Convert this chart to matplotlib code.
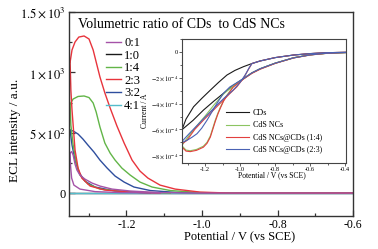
import matplotlib
matplotlib.use("Agg")
import matplotlib.pyplot as plt
from matplotlib.lines import Line2D
from matplotlib.ticker import MultipleLocator

plt.rcParams['font.family'] = ['Liberation Serif', 'DejaVu Serif']
plt.rcParams['mathtext.fontset'] = 'stix'
plt.rcParams['axes.unicode_minus'] = False

# ---- main panel: ECL intensity (a.u.) vs potential (V vs SCE) ----
# each ratio has a rising sweep (hump) and a return sweep (steep drop)
red_fwd_x = [-1.349, -1.344, -1.336, -1.326, -1.312, -1.299, -1.288, -1.280, -1.270, -1.257, -1.243,
             -1.225, -1.206, -1.185, -1.164, -1.143, -1.111, -1.071, -1.005, -0.925, -0.600]
red_fwd_y = [1085, 1185, 1251, 1292, 1301, 1276, 1185, 1085, 961, 829, 704,
             555, 414, 273, 182, 124, 66, 33, 8, 0, 0]
red_rev_x = [-1.349, -1.347, -1.344, -1.341, -1.336, -1.328, -1.318, -1.296, -1.257, -1.190, -1.111]
red_rev_y = [1085, 853, 688, 563, 356, 207, 124, 58, 25, 8, 0]

green_fwd_x = [-1.349, -1.341, -1.328, -1.312, -1.299, -1.288, -1.280, -1.270, -1.257, -1.243,
               -1.230, -1.212, -1.190, -1.164, -1.132, -1.084, -1.005, -0.899, -0.600]
green_fwd_y = [737, 779, 800, 804, 791, 746, 671, 547, 414, 331,
               273, 207, 149, 91, 50, 21, 4, 0, 0]
green_rev_x = [-1.349, -1.347, -1.341, -1.333, -1.323, -1.302, -1.270, -1.190, -1.084]
green_rev_y = [737, 563, 398, 257, 149, 75, 33, 8, 0]

blue_fwd_x = [-1.349, -1.341, -1.328, -1.315, -1.302, -1.286, -1.270, -1.251, -1.230, -1.206,
              -1.180, -1.137, -1.071, -0.952, -0.600]
blue_fwd_y = [522, 514, 489, 447, 398, 340, 273, 207, 141, 91, 50, 21, 6, 0, 0]
blue_rev_x = [-1.349, -1.344, -1.336, -1.326, -1.310, -1.283, -1.230, -1.137]
blue_rev_y = [522, 398, 273, 174, 99, 50, 17, 0]

purple_fwd_x = [-1.349, -1.345, -1.341, -1.336, -1.331, -1.323, -1.310, -1.291, -1.270, -1.238,
                -1.190, -1.111, -1.005, -0.600]
purple_fwd_y = [331, 344, 315, 240, 191, 149, 116, 83, 58, 33, 17, 4, 0, 0]
purple_rev_x = [-1.349, -1.348, -1.345, -1.339, -1.323, -1.283, -1.217, -1.111]
purple_rev_y = [331, 232, 124, 66, 33, 12, 4, 0]

flat_x = [-1.352, -0.600]
flat_y = [0, 0]

ratio_labels = ['0:1', '1:0', '1:4', '2:3', '3:2', '4:1']
ratio_colors = ['#a552a8', '#1a1a1a', '#62b548', '#e8343c', '#2e4e9e', '#55bccb']

# ---- inset: CV current (x1e-4 A) vs potential ----
cds_a_x = [-1.333, -1.310, -1.267, -1.220, -1.171, -1.124, -1.076, -1.030, -0.981, -0.933,
           -0.886, -0.800, -0.695, -0.600, -0.505, -0.398]
cds_a_y = [-6.02, -5.20, -4.25, -3.60, -2.96, -2.36, -1.79, -1.43, -1.14, -0.90,
           -0.70, -0.44, -0.24, -0.13, -0.06, -0.03]
cds_b_x = [-1.333, -1.270, -1.210, -1.150, -1.095, -1.040, -0.980, -0.933, -0.886, -0.800,
           -0.695, -0.600, -0.505, -0.398]
cds_b_y = [-6.02, -5.30, -4.50, -3.80, -3.20, -2.60, -2.05, -1.62, -1.30, -0.87,
           -0.45, -0.22, -0.10, -0.05]

cdsnc_f_x = [-1.331, -1.310, -1.286, -1.250, -1.211, -1.190, -1.171, -1.157, -1.143, -1.128,
             -1.114, -1.095, -1.076, -1.040, -0.980, -0.933, -0.886, -0.800, -0.695, -0.600,
             -0.505, -0.398]
cdsnc_f_y = [-7.30, -7.60, -7.65, -7.55, -7.30, -7.00, -6.50, -5.90, -5.30, -4.75,
             -4.30, -3.75, -3.35, -2.68, -2.07, -1.64, -1.32, -0.88, -0.46, -0.23,
             -0.11, -0.05]
cdsnc_r_x = [-1.331, -1.300, -1.250, -1.200, -1.150, -1.095, -1.040, -0.980, -0.933, -0.886,
             -0.800, -0.695, -0.600, -0.505, -0.398]
cdsnc_r_y = [-7.20, -6.60, -5.75, -4.95, -4.10, -3.25, -2.62, -2.06, -1.63, -1.31,
             -0.87, -0.46, -0.23, -0.11, -0.05]

r14_f_x = [-1.331, -1.310, -1.286, -1.250, -1.211, -1.190, -1.171, -1.157, -1.143, -1.128,
           -1.114, -1.095, -1.076, -1.040, -0.980, -0.933, -0.886, -0.800, -0.695, -0.600,
           -0.505, -0.398]
r14_f_y = [-7.40, -7.68, -7.72, -7.62, -7.38, -7.08, -6.60, -6.00, -5.40, -4.82,
           -4.36, -3.80, -3.40, -2.72, -2.09, -1.66, -1.34, -0.89, -0.47, -0.24,
           -0.11, -0.05]
r14_r_x = [-1.331, -1.305, -1.260, -1.211, -1.160, -1.114, -1.065, -1.019, -0.980, -0.955,
           -0.933, -0.886, -0.800, -0.695, -0.600, -0.505, -0.398]
r14_r_y = [-7.10, -6.85, -6.00, -5.29, -4.60, -3.97, -3.30, -2.70, -2.00, -1.40,
           -0.90, -0.70, -0.44, -0.24, -0.13, -0.06, -0.03]

r23_f_x = [-1.331, -1.305, -1.275, -1.247, -1.220, -1.190, -1.160, -1.133, -1.097, -1.060,
           -0.980, -0.933, -0.886, -0.800, -0.695, -0.600, -0.505, -0.398]
r23_f_y = [-7.00, -6.85, -6.60, -6.33, -5.90, -5.29, -4.60, -3.98, -3.22, -2.72,
           -2.05, -1.62, -1.30, -0.87, -0.46, -0.23, -0.10, -0.05]
r23_r_x = [-1.331, -1.290, -1.240, -1.190, -1.140, -1.090, -1.040, -1.000, -0.970, -0.950,
           -0.933, -0.886, -0.800, -0.695, -0.600, -0.505, -0.398]
r23_r_y = [-6.90, -6.30, -5.60, -4.90, -4.20, -3.55, -2.95, -2.35, -1.75, -1.25,
           -0.90, -0.70, -0.44, -0.24, -0.13, -0.06, -0.03]

inset_labels = ['CDs', 'CdS NCs', 'CdS NCs@CDs (1:4)', 'CdS NCs@CDs (2:3)']
inset_colors = ['#1a1a1a', '#8cc461', '#e2403f', '#4a62b4']

fig = plt.figure(figsize=(3.78, 2.49), dpi=100)
ax = fig.add_axes([0.1825, 0.1325, 0.7515, 0.8195])

lw = 1.0
ax.plot(flat_x, flat_y, color=ratio_colors[1], lw=lw)
ax.plot(flat_x, flat_y, color=ratio_colors[5], lw=lw)
ax.plot(blue_fwd_x, blue_fwd_y, color=ratio_colors[4], lw=lw)
ax.plot(blue_rev_x, blue_rev_y, color=ratio_colors[4], lw=lw)
ax.plot(green_fwd_x, green_fwd_y, color=ratio_colors[2], lw=lw)
ax.plot(green_rev_x, green_rev_y, color=ratio_colors[2], lw=lw)
ax.plot(red_fwd_x, red_fwd_y, color=ratio_colors[3], lw=lw)
ax.plot(red_rev_x, red_rev_y, color=ratio_colors[3], lw=lw)
ax.plot(purple_fwd_x, purple_fwd_y, color=ratio_colors[0], lw=lw)
ax.plot(purple_rev_x, purple_rev_y, color=ratio_colors[0], lw=lw)

ax.set_xlim(-1.352, -0.6)
ax.set_ylim(-190, 1500)
ax.set_xticks([-1.2, -1.0, -0.8, -0.6])
ax.set_xticklabels(['-1.2', '-1.0', '-0.8', '-0.6'])
ax.xaxis.set_minor_locator(MultipleLocator(0.1))
ax.set_yticks([0, 500, 1000, 1500])
ax.set_yticklabels(['0', r'$5\times10^{2}$', r'$1\times10^{3}$', r'$1.5\times10^{3}$'])
ax.yaxis.set_minor_locator(MultipleLocator(250))
ax.tick_params(which='both', direction='in', colors='#333333')
ax.tick_params(which='major', length=4, width=0.9)
ax.tick_params(which='minor', length=2.5, width=0.9)
ax.tick_params(axis='x', labelsize=8.5, pad=2.5)
ax.tick_params(axis='y', labelsize=9, pad=2.5)
ax.tick_params(labelcolor='black')
for s in ax.spines.values():
    s.set_color('#333333')
    s.set_linewidth(1.0)

ax.set_xlabel('Potential / V (vs SCE)', fontsize=9)
ax.xaxis.set_label_coords(0.602, -0.07)
ax.set_ylabel('ECL intensity / a.u.', fontsize=9.5)
ax.yaxis.set_label_coords(-0.17, 0.42)

fig.text(78 / 378, 1 - 25 / 249, 'Volumetric ratio of CDs  to CdS NCs', fontsize=10,
         va='center', ha='left')
handles = [Line2D([], [], color=c, lw=1.0) for c in ratio_colors]
leg = ax.legend(handles, ratio_labels, loc='upper left', frameon=False, fontsize=9,
                bbox_to_anchor=(106 / 378, 1 - 37 / 249), bbox_transform=fig.transFigure,
                borderpad=0, borderaxespad=0, handlelength=1.2, handletextpad=0.25,
                labelspacing=0.05)

# ---- inset ----
ins = fig.add_axes([182 / 378, 1 - 163 / 249, 164 / 378, 124 / 249])
ins.plot(cds_a_x, cds_a_y, color=inset_colors[0], lw=0.8)
ins.plot(cds_b_x, cds_b_y, color=inset_colors[0], lw=0.8)
ins.plot(cdsnc_f_x, cdsnc_f_y, color=inset_colors[1], lw=0.8)
ins.plot(cdsnc_r_x, cdsnc_r_y, color=inset_colors[1], lw=0.8)
ins.plot(r14_f_x, r14_f_y, color=inset_colors[2], lw=0.8)
ins.plot(r14_r_x, r14_r_y, color=inset_colors[2], lw=0.8)
ins.plot(r23_f_x, r23_f_y, color=inset_colors[3], lw=0.8)
ins.plot(r23_r_x, r23_r_y, color=inset_colors[3], lw=0.8)

ins.set_xlim(-1.333, -0.395)
ins.set_ylim(-8.6, 1.0)
ins.set_xticks([-1.2, -1.0, -0.8, -0.6, -0.4])
ins.set_xticklabels(['-1.2', '-1.0', '-0.8', '-0.6', '-0.4'])
ins.xaxis.set_minor_locator(MultipleLocator(0.1))
ins.set_yticks([0, -2, -4, -6, -8])
ins.set_yticklabels(['0', r'$-2\times10^{-4}$', r'$-4\times10^{-4}$', r'$-6\times10^{-4}$',
                     r'$-8\times10^{-4}$'])
ins.yaxis.set_minor_locator(MultipleLocator(1))
ins.tick_params(which='both', direction='out', labelsize=4.6, pad=1, colors='#444444')
ins.tick_params(labelcolor='black')
ins.tick_params(which='major', length=2, width=0.6)
ins.tick_params(which='minor', length=1.2, width=0.6)
for s in ins.spines.values():
    s.set_color('#444444')
    s.set_linewidth(0.8)
ins.set_xlabel('Potential / V (vs SCE)', fontsize=5.5)
ins.xaxis.set_label_coords(0.55, -0.065)
ins.set_ylabel('Current / A', fontsize=5.5)
ins.yaxis.set_label_coords(-0.2, 0.42)

ihandles = [Line2D([], [], color=c, lw=0.8) for c in inset_colors]
ins.legend(ihandles, inset_labels, loc='upper left', frameon=False, fontsize=5.8,
           bbox_to_anchor=(226 / 378, 1 - 109 / 249), bbox_transform=fig.transFigure,
           borderpad=0, borderaxespad=0, handlelength=2.9, handletextpad=0.4,
           labelspacing=0.55)

fig.savefig('out.png', dpi=100)
